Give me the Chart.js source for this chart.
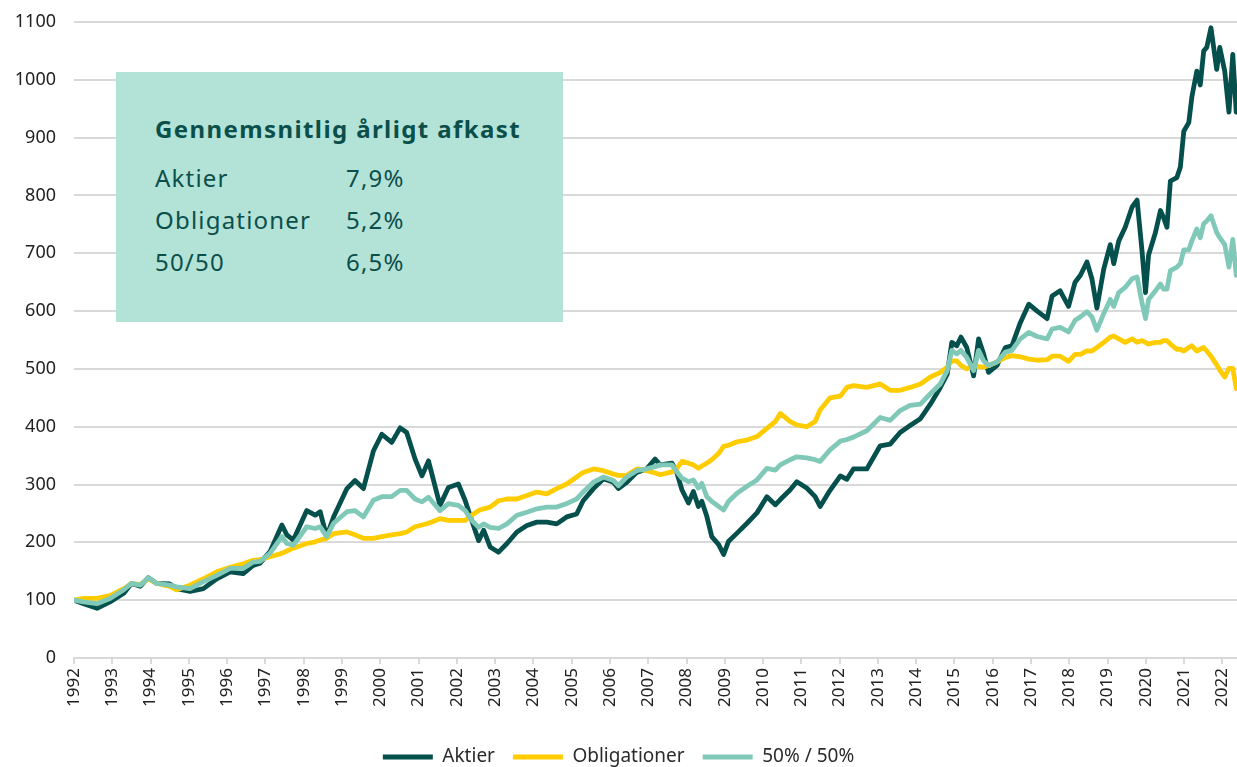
<!DOCTYPE html>
<html>
<head>
<meta charset="utf-8">
<script src="https://cdn.jsdelivr.net/npm/chart.js@4.4.1/dist/chart.umd.min.js"></script>
<style>
  body { margin: 0; background: #fff; }
  #wrap { position: relative; width: 1237px; height: 767px; }
  #infobox {
    position: absolute; left: 116px; top: 72px; width: 447px; height: 250px;
    background: #b3e2d7; color: #0b4f4b; font-family: "Noto Sans", sans-serif;
  }
  #infobox h3 { position: absolute; left: 39px; top: 40px; margin: 0; font-size: 24px; font-weight: 700; letter-spacing: 1.4px; white-space: nowrap; }
  #infobox .row { position: absolute; left: 39px; font-size: 24px; font-weight: 400; letter-spacing: 1.2px; white-space: nowrap; }
  #infobox .row span { position: absolute; left: 191px; }
</style>
</head>
<body>
<div id="wrap">
  <canvas id="myChart"></canvas>
  <div id="infobox">
    <h3>Gennemsnitlig årligt afkast</h3>
    <div class="row" style="top:89px">Aktier<span>7,9%</span></div>
    <div class="row" style="top:131px">Obligationer<span>5,2%</span></div>
    <div class="row" style="top:173px">50/50<span>6,5%</span></div>
  </div>
</div>
<script>
// (indeks, start 1992 = 100)
var dates = [1992.0, 1992.25, 1992.6, 1992.94, 1993.3, 1993.5, 1993.73, 1993.94, 1994.16, 1994.5, 1994.68,
  1995.03, 1995.38, 1995.73, 1996.08, 1996.42, 1996.68, 1996.86, 1997.12, 1997.43, 1997.56, 1997.73,
  1998.08, 1998.3, 1998.43, 1998.6, 1998.78, 1999.13, 1999.34, 1999.56, 1999.82, 2000.04, 2000.3,
  2000.52, 2000.69, 2000.91, 2001.09, 2001.26, 2001.56, 2001.78, 2002.04, 2002.22, 2002.39, 2002.57,
  2002.7, 2002.87, 2003.09, 2003.31, 2003.57, 2003.83, 2004.09, 2004.35, 2004.61, 2004.87, 2005.13,
  2005.3, 2005.57, 2005.83, 2006.09, 2006.22, 2006.44, 2006.7, 2006.96, 2007.18, 2007.31, 2007.62,
  2007.75, 2007.88, 2008.05, 2008.18, 2008.31, 2008.4, 2008.53, 2008.66, 2008.84, 2008.97, 2009.1,
  2009.32, 2009.58, 2009.84, 2010.1, 2010.32, 2010.45, 2010.71, 2010.88, 2011.14, 2011.36, 2011.49,
  2011.75, 2012.02, 2012.19, 2012.36, 2012.71, 2013.06, 2013.32, 2013.58, 2013.84, 2014.11, 2014.37,
  2014.63, 2014.81, 2014.93, 2015.06, 2015.17, 2015.32, 2015.5, 2015.63, 2015.76, 2015.89, 2016.11,
  2016.33, 2016.5, 2016.72, 2016.94, 2017.16, 2017.42, 2017.55, 2017.76, 2017.98, 2018.15, 2018.29,
  2018.46, 2018.59, 2018.72, 2018.9, 2019.07, 2019.16, 2019.29, 2019.46, 2019.64, 2019.77, 2019.9,
  2019.99, 2020.07, 2020.25, 2020.38, 2020.46, 2020.55, 2020.64, 2020.81, 2020.9, 2020.99, 2021.12,
  2021.2, 2021.33, 2021.42, 2021.51, 2021.59, 2021.7, 2021.85, 2021.93, 2022.06, 2022.17, 2022.27, 2022.36];

var aktier = [100, 94, 86, 97, 112, 129, 124, 139, 129, 128, 120,
  115, 120, 137, 149, 146, 160, 164, 184, 230, 213, 204,
  255, 247, 253, 210, 244, 293, 307, 293, 358, 387, 373,
  398, 390, 344, 315, 341, 264, 295, 301, 272, 238, 203,
  221, 192, 183, 198, 218, 229, 235, 235, 232, 244, 249,
  272, 293, 310, 304, 293, 304, 321, 327, 344, 334, 337,
  320, 291, 268, 288, 262, 271, 245, 210, 196, 179, 202,
  216, 233, 251, 279, 265, 274, 291, 305, 294, 279, 262,
  290, 315, 309, 327, 327, 367, 370, 390, 402, 414, 439,
  468, 491, 546, 540, 555, 537, 488, 552, 526, 494, 506,
  537, 540, 580, 612, 600, 587, 626, 635, 608, 650, 662,
  685, 656, 605, 673, 715, 682, 721, 745, 780, 792, 703,
  632, 697, 736, 774, 762, 745, 825, 831, 849, 911, 926,
  970, 1015, 991, 1050, 1056, 1090, 1018, 1056, 1015, 944, 1044, 944];

var obligationer = [100, 103, 103, 108, 120, 129, 127, 137, 129, 124, 118,
  126, 137, 149, 157, 163, 169, 170, 175, 181, 185, 190,
  198, 201, 204, 207, 215, 218, 213, 207, 207, 210, 213,
  215, 218, 227, 230, 233, 241, 238, 238, 238, 247, 255,
  258, 261, 272, 275, 275, 281, 287, 284, 293, 301, 313,
  321, 327, 324, 318, 316, 316, 327, 324, 320, 317, 322,
  328, 340, 337, 334, 328, 332, 337, 343, 354, 366, 368,
  374, 377, 383, 397, 409, 423, 409, 403, 400, 409, 429,
  450, 453, 468, 471, 468, 474, 463, 463, 468, 474, 486,
  494, 503, 514, 514, 506, 500, 506, 504, 503, 506, 512,
  520, 523, 521, 517, 515, 516, 522, 522, 513, 525, 525,
  531, 531, 537, 546, 555, 557, 552, 546, 552, 546, 549,
  546, 543, 546, 546, 549, 549, 543, 534, 534, 531, 537,
  540, 531, 534, 537, 531, 522, 507, 498, 486, 501, 501, 466];

var halvt = [100, 97, 94, 103, 118, 129, 126, 139, 129, 126, 123,
  120, 132, 143, 155, 155, 166, 167, 181, 210, 198, 195,
  227, 224, 227, 210, 233, 253, 255, 244, 273, 279, 279,
  290, 290, 275, 270, 278, 255, 267, 264, 255, 238, 226,
  232, 226, 224, 232, 247, 252, 258, 261, 261, 267, 275,
  287, 304, 313, 307, 298, 313, 324, 327, 331, 334, 334,
  322, 311, 305, 308, 294, 302, 279, 271, 262, 256, 271,
  285, 297, 308, 328, 325, 334, 343, 348, 346, 343, 340,
  360, 375, 378, 382, 393, 416, 411, 428, 437, 439, 457,
  474, 497, 532, 526, 532, 520, 497, 532, 514, 506, 512,
  529, 532, 552, 563, 556, 552, 569, 572, 564, 584, 590,
  599, 590, 567, 596, 620, 608, 632, 641, 656, 659, 614,
  587, 620, 635, 647, 638, 638, 670, 676, 682, 706, 706,
  721, 742, 727, 751, 756, 765, 736, 727, 715, 676, 724, 662];

var serieNavne = ["Aktier", "Obligationer", "50% / 50%"];
var farver = ["#05504c", "#ffcc00", "#80c9b9"];
var yTicks = { min: 0, max: 1100, step: 100 };
var xTicks = { min: 1992, max: 2022.38, step: 1 };

var plotBund = 658;     // pixel for x-aksen
var legendMidte = 757;  // pixel for legendens midte

function punkter(values) {
  return dates.map(function (d, i) { return { x: d, y: values[i] }; });
}

var serier = [aktier, obligationer, halvt];
var datasets = serier.map(function (s, i) {
  return {
    label: serieNavne[i],
    data: punkter(s),
    borderColor: farver[i],
    backgroundColor: farver[i],
    borderWidth: 4.8,
    borderJoinStyle: "round",
    borderCapStyle: "round",
    pointRadius: 0,
    tension: 0,
    order: 3 - i
  };
});

// flyt legenden lidt ned mod bunden
var flytLegend = {
  id: "flytLegend",
  afterLayout: function (chart) {
    var lg = chart.legend;
    var midte = lg.top + lg.options.labels.padding + lg.options.labels.font.size / 2;
    var dy = legendMidte - midte;
    lg.top += dy;
    lg.bottom += dy;
  }
};

new Chart("myChart", {
  type: "line",
  data: { datasets: datasets },
  plugins: [flytLegend],
  options: {
    responsive: true,
    maintainAspectRatio: false,
    animation: false,
    layout: { padding: { top: 22, left: 0, right: 0, bottom: 0 } },
    plugins: {
      tooltip: { enabled: false },
      legend: {
        position: "bottom",
        labels: {
          usePointStyle: true,
          pointStyle: "line",
          pointStyleWidth: 50,
          padding: 18,
          color: "#2b2b2b",
          font: { family: "Noto Sans", size: 19 },
          sort: function (a, b) { return a.datasetIndex - b.datasetIndex; }
        }
      }
    },
    scales: {
      x: {
        type: "linear",
        min: xTicks.min,
        max: xTicks.max,
        border: { color: "#d9d9d9", width: 2 },
        grid: { drawOnChartArea: false, drawTicks: true, tickLength: 6, color: "#d9d9d9", lineWidth: 2 },
        ticks: {
          stepSize: xTicks.step,
          includeBounds: false,
          autoSkip: false,
          minRotation: 90,
          maxRotation: 90,
          padding: 4,
          color: "#222",
          font: { family: "Noto Sans", size: 17 },
          callback: function (v) { return String(v); }
        },
        afterFit: function (scale) {
          scale.paddingLeft = 0;
          scale.paddingRight = 0;
          scale.height = scale.chart.height - plotBund - scale.chart.legend.height;
        }
      },
      y: {
        min: yTicks.min,
        max: yTicks.max,
        border: { display: false },
        grid: { color: "#d9d9d9", lineWidth: 2, drawTicks: false },
        ticks: {
          stepSize: yTicks.step,
          padding: 18,
          color: "#222",
          font: { family: "Noto Sans", size: 18 },
          callback: function (v) { return String(v); }
        },
        afterFit: function (scale) {
          scale.width = 74;
          scale.paddingTop = 0;
          scale.paddingBottom = 0;
        }
      }
    }
  }
});
</script>
</body>
</html>
